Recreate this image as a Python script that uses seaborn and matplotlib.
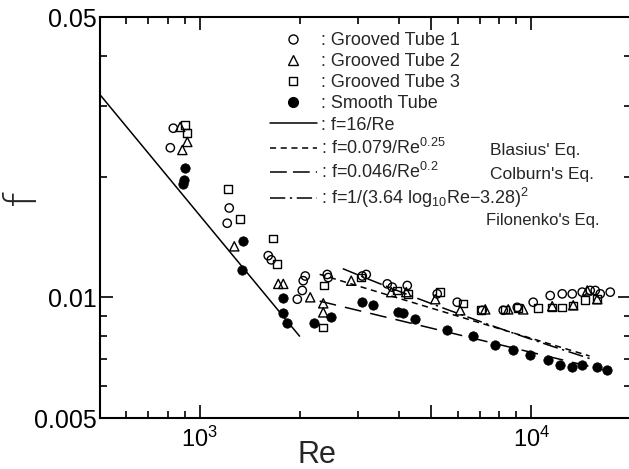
import numpy as np
import seaborn as sns
import matplotlib.pyplot as plt
from matplotlib.lines import Line2D
from matplotlib.ticker import FixedLocator, FixedFormatter, NullFormatter

sns.set_style("ticks")
plt.rcParams['font.family'] = ['Liberation Sans', 'DejaVu Sans']
plt.rcParams['mathtext.fontset'] = 'custom'
plt.rcParams['mathtext.rm'] = 'Liberation Sans'
plt.rcParams['mathtext.it'] = 'Liberation Sans:italic'
plt.rcParams['mathtext.default'] = 'regular'

# Grooved Tube 1 (open circles)
re_g1 = [832, 815, 1227, 1210, 1609, 1643, 2081, 2052, 1969, 2038, 2424, 2441,
         3092, 3179, 3678, 3808, 4227, 5205, 5981, 7116, 8233, 9073, 10139,
         11410, 12404, 13297, 14251, 15066, 15600, 16150, 17312]
f_g1 = [0.0264, 0.0236, 0.0167, 0.0153, 0.0127, 0.0124, 0.0113, 0.0110, 0.00989,
        0.0104, 0.0114, 0.0112, 0.0113, 0.0114, 0.0108, 0.0106, 0.0107, 0.0102,
        0.00972, 0.00928, 0.00928, 0.00944, 0.00972, 0.0101, 0.0102, 0.0102,
        0.0103, 0.0104, 0.0104, 0.0102, 0.0103]

# Grooved Tube 2 (open triangles)
re_g2 = [873, 917, 886, 1271, 1725, 1786, 2154, 2358, 2358, 2864, 3782, 4197,
         5133, 6107, 7265, 8523, 9461, 11569, 13389, 14755, 15817]
f_g2 = [0.0266, 0.0244, 0.0233, 0.0134, 0.0108, 0.0108, 0.0100, 0.00966, 0.00917,
        0.0110, 0.0103, 0.0103, 0.00989, 0.00928, 0.00933, 0.00933, 0.00933,
        0.00950, 0.00955, 0.0104, 0.00989]

# Grooved Tube 3 (open squares)
re_g3 = [904, 917, 1219, 1325, 1666, 1713, 2375, 2358, 3070, 3943, 4256, 5314,
         6235, 7067, 8349, 9136, 10498, 11569, 12404, 13389, 14552, 15817]
f_g3 = [0.0269, 0.0257, 0.0186, 0.0157, 0.0140, 0.0121, 0.0107, 0.00841, 0.0112,
        0.0104, 0.0102, 0.0103, 0.00966, 0.00928, 0.00933, 0.00939, 0.00939,
        0.00944, 0.00944, 0.00955, 0.00983, 0.00989]

# Smooth Tube (filled circles)
re_s = [904, 898, 892, 1353, 1344, 1786, 1786, 1837, 2215, 2493, 3092, 3337,
        3970, 4111, 4467, 5580, 6683, 7789, 8824, 9931, 11253, 12233, 13297,
        14251, 15817, 16955]
f_s = [0.0210, 0.0196, 0.0192, 0.0138, 0.0117, 0.00994, 0.00912, 0.00861,
       0.00861, 0.00891, 0.00972, 0.00955, 0.00917, 0.00912, 0.00881, 0.00827,
       0.00799, 0.00759, 0.00737, 0.00717, 0.00696, 0.00676, 0.00669, 0.00676,
       0.00669, 0.00657]

# Re ranges of the correlation lines
lam_range = [500, 2000]
blasius_range = [2300, 15000]
colburn_range = [2300, 17000]
filonenko_range = [2700, 15000]

x_major = [1000, 5000, 10000]
x_major_labels = ['$10^3$', '', '$10^4$']
x_minor = [600, 700, 800, 900, 2000, 3000, 4000, 6000, 7000, 8000, 9000, 20000]
y_major = [0.005, 0.01, 0.05]
y_major_labels = ['0.005', '0.01', '0.05']
y_minor = [0.006, 0.007, 0.008, 0.009, 0.02, 0.03, 0.04]

fig = plt.figure(figsize=(6.29, 4.69), dpi=100)
ax = fig.add_axes([100 / 629, 51 / 469, 531 / 629, 401 / 469])
ax.set_xscale('log')
ax.set_yscale('log')

lw = 1.1
re_lam = np.geomspace(*lam_range, 50)
sns.lineplot(x=re_lam, y=16 / re_lam, ax=ax, color='black', lw=lw, estimator=None)
re_b = np.geomspace(*blasius_range, 80)
sns.lineplot(x=re_b, y=0.079 / re_b ** 0.25, ax=ax, color='black', lw=lw,
             linestyle=(0, (4, 3)), estimator=None)
re_c = np.geomspace(*colburn_range, 80)
sns.lineplot(x=re_c, y=0.046 / re_c ** 0.2, ax=ax, color='black', lw=lw,
             linestyle=(0, (11, 6)), estimator=None)
re_f = np.geomspace(*filonenko_range, 80)
sns.lineplot(x=re_f, y=1 / (3.64 * np.log10(re_f) - 3.28) ** 2, ax=ax,
             color='black', lw=lw, linestyle=(0, (10, 3, 1.5, 3)), estimator=None)

sns.scatterplot(x=re_g1, y=f_g1, ax=ax, marker='o', s=36, facecolor='none',
                edgecolor='black', linewidth=1.0, zorder=3)
sns.scatterplot(x=re_g2, y=f_g2, ax=ax, marker='^', s=44, facecolor='none',
                edgecolor='black', linewidth=1.0, zorder=3)
sns.scatterplot(x=re_g3, y=f_g3, ax=ax, marker='s', s=30, facecolor='none',
                edgecolor='black', linewidth=1.0, zorder=3)
sns.scatterplot(x=re_s, y=f_s, ax=ax, marker='o', s=46, color='black',
                edgecolor='black', linewidth=0.5, zorder=3)

ax.set_xlim(500, 20000)
ax.set_ylim(0.005, 0.05)
ax.xaxis.set_major_locator(FixedLocator(x_major))
ax.xaxis.set_major_formatter(FixedFormatter(x_major_labels))
ax.xaxis.set_minor_locator(FixedLocator(x_minor))
ax.xaxis.set_minor_formatter(NullFormatter())
ax.yaxis.set_major_locator(FixedLocator(y_major))
ax.yaxis.set_major_formatter(FixedFormatter(y_major_labels))
ax.yaxis.set_minor_locator(FixedLocator(y_minor))
ax.yaxis.set_minor_formatter(NullFormatter())

ax.tick_params(which='both', direction='in', top=True, right=True,
               width=1.2, color='black', labelcolor='black')
ax.tick_params(which='major', length=9.5)
ax.tick_params(which='minor', length=5)
ax.tick_params(axis='y', labelsize=18, pad=2)
ax.tick_params(axis='x', labelsize=17, pad=6)
for sp in ax.spines.values():
    sp.set_linewidth(1.5)
    sp.set_color('black')

ax.set_xlabel('Re', fontsize=22)
ax.xaxis.set_label_coords(0.409, -0.055)
ax.set_ylabel('f', fontsize=32, family='DejaVu Sans', fontweight='light')
ax.yaxis.set_label_coords(-0.105, 0.551)

handles = [
    Line2D([], [], marker='o', ls='none', mfc='none', mec='black', ms=6.5, mew=1.0),
    Line2D([], [], marker='^', ls='none', mfc='none', mec='black', ms=7, mew=1.0),
    Line2D([], [], marker='s', ls='none', mfc='none', mec='black', ms=5.8, mew=1.0),
    Line2D([], [], marker='o', ls='none', mfc='black', mec='black', ms=7),
    Line2D([], [], color='black', lw=lw),
    Line2D([], [], color='black', lw=lw, ls=(0, (4, 3))),
    Line2D([], [], color='black', lw=lw, ls=(0, (11, 4))),
    Line2D([], [], color='black', lw=lw, ls=(0, (10, 3, 1.5, 3))),
]
labels = [
    ': Grooved Tube 1',
    ': Grooved Tube 2',
    ': Grooved Tube 3',
    ': Smooth Tube',
    ': f=16/Re',
    ': f=0.079/Re$^{0.25}$',
    ': f=0.046/Re$^{0.2}$',
    ': f=1/(3.64 log$_{10}$Re\u22123.28)$^2$',
]
ax.legend(handles, labels, loc='upper left', bbox_to_anchor=(270 / 629, 1 - 32 / 469),
          bbox_transform=fig.transFigure, frameon=False, fontsize=13,
          handlelength=2.6, handletextpad=0.2, labelspacing=0.23,
          borderpad=0, borderaxespad=0)

fig.text(490 / 629, 1 - 151 / 469, "Blasius' Eq.", fontsize=12.5, va='center')
fig.text(490 / 629, 1 - 175 / 469, "Colburn's Eq.", fontsize=12.5, va='center')
fig.text(486 / 629, 1 - 220 / 469, "Filonenko's Eq.", fontsize=12, va='center')

fig.savefig('out.png', dpi=100)
